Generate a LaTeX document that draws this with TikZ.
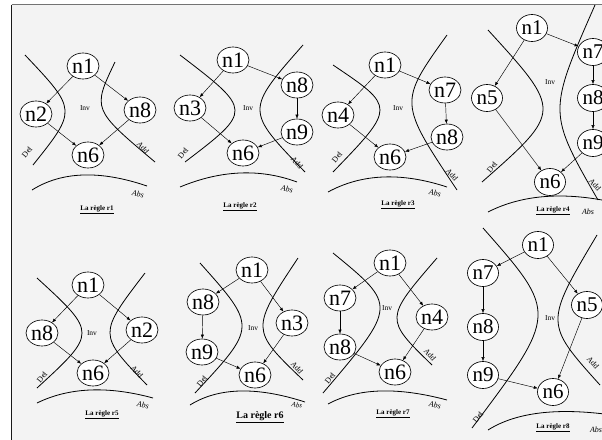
\documentclass[tikz,border=0pt]{standalone}
\usepackage{fontspec}
\setmainfont{Liberation Serif}
\usetikzlibrary{arrows.meta,calc,shapes.geometric}
\definecolor{bgc}{HTML}{F3F3F3}
\newcommand\hcurve[3]{\draw[sepline] (#1) .. controls ($1.3333*(#2)-0.16667*(#1)-0.16667*(#3)$) and ($1.3333*(#2)-0.16667*(#1)-0.16667*(#3)$) .. (#3);}
\newcommand\abscurve[3]{\draw[sepline] (#1) .. controls ($1.3333*(#2)-0.3333*(#3)$) and ($1.3333*(#2)-0.3333*(#1)$) .. (#3);}
\begin{document}
\begin{tikzpicture}[x=1pt,y=-1pt,
  nd/.style={ellipse,draw,line width=0.65pt,fill=white,inner sep=0pt,minimum width=32pt,minimum height=26pt,font=\fontsize{22}{22}\selectfont},
  ndb/.style={nd,minimum width=31pt,minimum height=27pt,font=\fontsize{21}{21}\selectfont},
  arr/.style={-{Latex[length=4pt,width=3.2pt]},line width=0.45pt},
  sepline/.style={line width=0.8pt},
  invtxt/.style={font=\fontsize{7.5}{7.5}\selectfont,inner sep=0pt},
  lbl/.style={font=\fontsize{8}{8}\selectfont,inner sep=0pt},
  abstxt/.style={font=\fontsize{8}{8}\selectfont\itshape,inner sep=0pt,rotate=-10},
  captxt/.style={font=\fontsize{7}{7}\selectfont\bfseries,inner sep=0pt},
  captxtb/.style={font=\fontsize{10}{10}\selectfont\bfseries,inner sep=0pt}]
\useasboundingbox (0,0) rectangle (602,439);
\fill[bgc] (11.5,4.5) rectangle (610,445);
\draw[line width=1.2pt,black!55] (11.5,4.5) -- (610,4.5);
\draw[line width=1.3pt,black!90] (11.5,4.5) -- (11.5,445);

% ---------- Panel 1 ----------
\hcurve{25,55}{65,110}{33,165}
\hcurve{115,62}{103,110}{155,162}
\abscurve{32,190}{83,175}{147,186}
\node[lbl,rotate=50] at (27,152) {Del};
\node[lbl,rotate=-50] at (143,148) {Add};
\node[abstxt] at (138,194) {Abs};
\node[invtxt] at (85,108) {Inv};
\node[captxt] at (97,210) {\underline{La règle r1}};
\node[nd] (a1) at (83,66) {n1};
\node[nd] (a2) at (36,114) {n2};
\node[nd] (a8) at (140,110) {n8};
\node[nd] (a6) at (88,155) {n6};
\draw[arr] (a1) -- (a2);
\draw[arr] (a1) -- (a8);
\draw[arr] (a2) -- (a6);
\draw[arr] (a8) -- (a6);

% ---------- Panel 2 ----------
\hcurve{180,55}{235,110}{185,162}
\hcurve{303,45}{260,110}{305,172}
\abscurve{180,187}{240,173}{297,182}
\node[lbl,rotate=50] at (183,153) {Del};
\node[lbl,rotate=-50] at (297,163) {Add};
\node[abstxt] at (287,189) {Abs};
\node[invtxt] at (248,108) {Inv};
\node[captxt] at (240,207) {\underline{La règle r2}};
\node[nd] (b1) at (233,60) {n1};
\node[nd] (b3) at (190,108) {n3};
\node[nd] (b8) at (297,85) {n8};
\node[nd] (b9) at (297,132) {n9};
\node[nd] (b6) at (243,153) {n6};
\draw[arr] (b1) -- (b3);
\draw[arr] (b1) -- (b8);
\draw[arr] (b8) -- (b9);
\draw[arr] (b9) -- (b6);
\draw[arr] (b3) -- (b6);

% ---------- Panel 3 ----------
\hcurve{333,65}{380,110}{333,172}
\hcurve{447,35}{412,105}{457,190}
\abscurve{328,192}{383,177}{447,187}
\node[lbl,rotate=50] at (337,157) {Del};
\node[lbl,rotate=-50] at (452,175) {Add};
\node[abstxt] at (435,193) {Abs};
\node[invtxt] at (398,108) {Inv};
\node[captxt] at (398,205) {\underline{La règle r3}};
\node[nd] (c1) at (385,65) {n1};
\node[nd] (c4) at (338,115) {n4};
\node[nd] (c7) at (445,90) {n7};
\node[nd] (c8) at (447,137) {n8};
\node[nd] (c6) at (390,157) {n6};
\draw[arr] (c1) -- (c4);
\draw[arr] (c1) -- (c7);
\draw[arr] (c7) -- (c8);
\draw[arr] (c8) -- (c6);
\draw[arr] (c4) -- (c6);

% ---------- Panel 4 ----------
\hcurve{488,30}{543,110}{482,182}
\hcurve{595,5}{560,110}{598,200}
\abscurve{488,212}{540,197}{602,200}
\node[lbl,rotate=50] at (492,167) {Del};
\node[lbl,rotate=-50] at (595,185) {Add};
\node[abstxt,rotate=10] at (588,212) {Abs};
\node[invtxt] at (550,82) {Inv};
\node[captxt,fill=bgc,inner sep=1pt] at (553,211) {\underline{La règle r4}};
\node[ndb] (d1) at (532,28) {n1};
\node[ndb] (d5) at (487,98) {n5};
\node[ndb] (d7) at (593,52) {n7};
\node[ndb] (d8) at (593,98) {n8};
\node[ndb] (d9) at (593,143) {n9};
\node[ndb] (d6) at (550,182) {n6};
\draw[arr] (d1) -- (d5);
\draw[arr] (d1) -- (d7);
\draw[arr] (d7) -- (d8);
\draw[arr] (d8) -- (d9);
\draw[arr] (d9) -- (d6);
\draw[arr] (d5) -- (d6);

% ---------- Panel 5 ----------
\hcurve{37,278}{82,333}{37,388}
\hcurve{145,273}{110,333}{147,385}
\abscurve{37,403}{90,390}{153,398}
\node[lbl,rotate=50] at (42,377) {Del};
\node[lbl,rotate=-50] at (137,372) {Add};
\node[abstxt] at (143,405) {Abs};
\node[invtxt] at (92,333) {Inv};
\node[captxt] at (102,415) {\underline{La règle r5}};
\node[nd] (e1) at (88,285) {n1};
\node[nd] (e8) at (42,333) {n8};
\node[nd] (e2) at (142,330) {n2};
\node[nd] (e6) at (93,373) {n6};
\draw[arr] (e1) -- (e8);
\draw[arr] (e1) -- (e2);
\draw[arr] (e8) -- (e6);
\draw[arr] (e2) -- (e6);

% ---------- Panel 6 ----------
\hcurve{200,263}{242,327}{195,393}
\hcurve{298,258}{263,327}{303,380}
\abscurve{190,405}{240,391}{305,402}
\node[lbl,rotate=50] at (202,381) {Del};
\node[lbl,rotate=-50] at (297,368) {Add};
\node[abstxt,font=\fontsize{7}{7}\selectfont\itshape] at (297,405) {Abs};
\node[invtxt] at (253,328) {Inv};
\node[captxtb] at (260,417) {\underline{La règle r6}};
\node[nd] (f1) at (252,270) {n1};
\node[nd] (f8) at (203,302) {n8};
\node[nd] (f9) at (202,352) {n9};
\node[nd] (f3) at (292,323) {n3};
\node[nd] (f6) at (255,375) {n6};
\draw[arr] (f1) -- (f8);
\draw[arr] (f1) -- (f3);
\draw[arr] (f8) -- (f9);
\draw[arr] (f9) -- (f6);
\draw[arr] (f3) -- (f6);

% ---------- Panel 7 ----------
\hcurve{333,253}{380,310}{323,393}
\hcurve{437,258}{397,317}{432,365}
\abscurve{328,404}{380,391}{447,400}
\node[lbl,rotate=50] at (330,378) {Del};
\node[lbl,rotate=-50] at (430,355) {Add};
\node[abstxt] at (435,405) {Abs};
\node[invtxt] at (387,308) {Inv};
\node[captxt] at (393,414) {\underline{La règle r7}};
\node[nd] (g1) at (390,263) {n1};
\node[nd] (g7) at (340,298) {n7};
\node[nd] (g8) at (340,347) {n8};
\node[nd] (g4) at (432,317) {n4};
\node[nd] (g6) at (395,372) {n6};
\draw[arr] (g1) -- (g7);
\draw[arr] (g1) -- (g4);
\draw[arr] (g7) -- (g8);
\draw[arr] (g8) -- (g6);
\draw[arr] (g4) -- (g6);

% ---------- Panel 8 ----------
\hcurve{483,228}{538,317}{472,428}
\hcurve{597,235}{558,320}{600,385}
\abscurve{488,430}{540,413}{612,415}
\node[lbl,rotate=50] at (478,417) {Del};
\node[lbl,rotate=-50] at (593,363) {Add};
\node[abstxt,rotate=10] at (596,430) {Abs};
\node[invtxt] at (550,318) {Inv};
\node[captxt,fill=bgc,inner sep=1pt] at (553,428) {\underline{La règle r8}};
\node[ndb] (h1) at (538,245) {n1};
\node[ndb] (h7) at (483,273) {n7};
\node[ndb] (h8) at (483,327) {n8};
\node[ndb] (h9) at (483,375) {n9};
\node[ndb] (h5) at (587,305) {n5};
\node[ndb] (h6) at (553,392) {n6};
\draw[arr] (h1) -- (h7);
\draw[arr] (h1) -- (h5);
\draw[arr] (h7) -- (h8);
\draw[arr] (h8) -- (h9);
\draw[arr] (h9) -- (h6);
\draw[arr] (h5) -- (h6);
\end{tikzpicture}
\end{document}
